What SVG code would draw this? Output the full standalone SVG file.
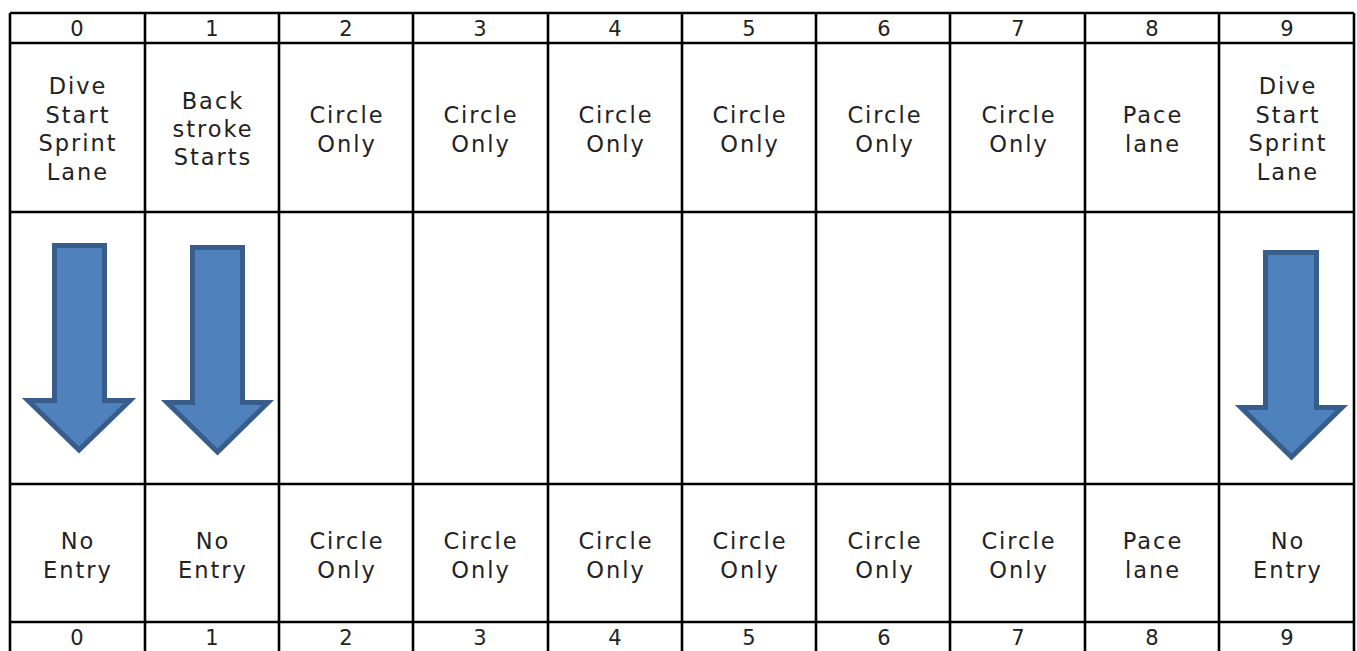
<svg xmlns="http://www.w3.org/2000/svg" width="1357" height="651" viewBox="0 0 1357 651">
<style>
.grid line{stroke:#000;stroke-width:2.6}
text{font-family:"DejaVu Sans","Noto Sans",sans-serif;font-size:22.5px;fill:#222;text-anchor:middle;letter-spacing:2px}
text.num{font-size:21px;letter-spacing:0}
.arr{fill:#4f81bd;stroke:#385d8a;stroke-width:5;stroke-linejoin:miter}
</style>
<rect width="1357" height="651" fill="#fff"/>
<g id="grid" class="grid">
<line x1="10" y1="13" x2="1354" y2="13"/>
<line x1="10" y1="43" x2="1354" y2="43"/>
<line x1="10" y1="212" x2="1354" y2="212"/>
<line x1="10" y1="484" x2="1354" y2="484"/>
<line x1="10" y1="622" x2="1354" y2="622"/>
<line x1="10" y1="13" x2="10" y2="651"/>
<line x1="145" y1="13" x2="145" y2="651"/>
<line x1="279" y1="13" x2="279" y2="651"/>
<line x1="413" y1="13" x2="413" y2="651"/>
<line x1="548" y1="13" x2="548" y2="651"/>
<line x1="682" y1="13" x2="682" y2="651"/>
<line x1="816" y1="13" x2="816" y2="651"/>
<line x1="950" y1="13" x2="950" y2="651"/>
<line x1="1085" y1="13" x2="1085" y2="651"/>
<line x1="1219" y1="13" x2="1219" y2="651"/>
<line x1="1354" y1="13" x2="1354" y2="651"/>
</g>
<g id="lane0">
<text class="num" x="77" y="36">0</text>
<text x="78" y="94">Dive</text><text x="78" y="123">Start</text><text x="78" y="151">Sprint</text><text x="78" y="180">Lane</text>
<text x="78" y="549">No</text><text x="78" y="578">Entry</text>
<text class="num" x="77" y="645">0</text>
</g>
<g id="lane1">
<text class="num" x="212" y="36">1</text>
<text x="213" y="109">Back</text><text x="213" y="137">stroke</text><text x="213" y="165">Starts</text>
<text x="213" y="549">No</text><text x="213" y="578">Entry</text>
<text class="num" x="212" y="645">1</text>
</g>
<g id="lane2">
<text class="num" x="346" y="36">2</text>
<text x="347" y="123">Circle</text><text x="347" y="152">Only</text>
<text x="347" y="549">Circle</text><text x="347" y="578">Only</text>
<text class="num" x="346" y="645">2</text>
</g>
<g id="lane3">
<text class="num" x="480" y="36">3</text>
<text x="481" y="123">Circle</text><text x="481" y="152">Only</text>
<text x="481" y="549">Circle</text><text x="481" y="578">Only</text>
<text class="num" x="480" y="645">3</text>
</g>
<g id="lane4">
<text class="num" x="615" y="36">4</text>
<text x="616" y="123">Circle</text><text x="616" y="152">Only</text>
<text x="616" y="549">Circle</text><text x="616" y="578">Only</text>
<text class="num" x="615" y="645">4</text>
</g>
<g id="lane5">
<text class="num" x="749" y="36">5</text>
<text x="750" y="123">Circle</text><text x="750" y="152">Only</text>
<text x="750" y="549">Circle</text><text x="750" y="578">Only</text>
<text class="num" x="749" y="645">5</text>
</g>
<g id="lane6">
<text class="num" x="884" y="36">6</text>
<text x="885" y="123">Circle</text><text x="885" y="152">Only</text>
<text x="885" y="549">Circle</text><text x="885" y="578">Only</text>
<text class="num" x="884" y="645">6</text>
</g>
<g id="lane7">
<text class="num" x="1018" y="36">7</text>
<text x="1019" y="123">Circle</text><text x="1019" y="152">Only</text>
<text x="1019" y="549">Circle</text><text x="1019" y="578">Only</text>
<text class="num" x="1018" y="645">7</text>
</g>
<g id="lane8">
<text class="num" x="1152" y="36">8</text>
<text x="1153" y="123">Pace</text><text x="1153" y="152">lane</text>
<text x="1153" y="549">Pace</text><text x="1153" y="578">lane</text>
<text class="num" x="1152" y="645">8</text>
</g>
<g id="lane9">
<text class="num" x="1287" y="36">9</text>
<text x="1288" y="94">Dive</text><text x="1288" y="123">Start</text><text x="1288" y="151">Sprint</text><text x="1288" y="180">Lane</text>
<text x="1288" y="549">No</text><text x="1288" y="578">Entry</text>
<text class="num" x="1287" y="645">9</text>
</g>
<g id="connectors">
<path class="arr" d="M54.5,245.5 H104.5 V400.5 H130 L79,450 L28,400.5 H54.5 Z"/>
<path class="arr" d="M192.5,247.5 H242.5 V402.5 H268 L217.5,452 L167,402.5 H192.5 Z"/>
<path class="arr" d="M1265.5,252.5 H1316.5 V407.5 H1342 L1291.5,457 L1241,407.5 H1265.5 Z"/>
</g>
</svg>
